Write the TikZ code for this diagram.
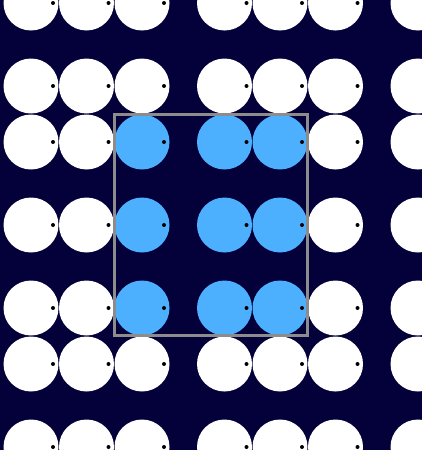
\documentclass[tikz,border=0pt]{standalone}
\usepackage{xcolor}
\usetikzlibrary{positioning}
\definecolor{bgnavy}{RGB}{3,0,58}
\definecolor{cellblue}{RGB}{77,176,255}
\definecolor{framegray}{RGB}{140,140,140}

\begin{document}
\begin{tikzpicture}[x=1pt,y=-1pt,
  disc/.style={circle,minimum size=55pt,inner sep=0pt},
  pin/.style={circle,fill=black,minimum size=4pt,inner sep=0pt}]
\useasboundingbox (0,0) rectangle (422,450);
\fill[bgnavy] (0,0) rectangle (422,450);
\clip (0,0) rectangle (422,450);
% lattice of discs, the unit cell ones in blue
\foreach \x [count=\i] in {31,86.5,142,224.5,280,335.5,418}
  \foreach \y [count=\j] in {3,86,142,225,308,364,447} {
    \def\tone{white}
    \ifnum\i>2 \ifnum\i<6 \ifnum\j>2 \ifnum\j<6 \def\tone{cellblue}\fi\fi\fi\fi
    \node[disc,fill=\tone] (d\i\j) at (\x,\y) {};
    \node[pin,left=3.5pt of d\i\j.east] (p\i\j) {};
  }
\draw[framegray,line width=2.5pt] (d33.west |- d33.north) rectangle (d55.east |- d55.south);
\end{tikzpicture}
\end{document}
